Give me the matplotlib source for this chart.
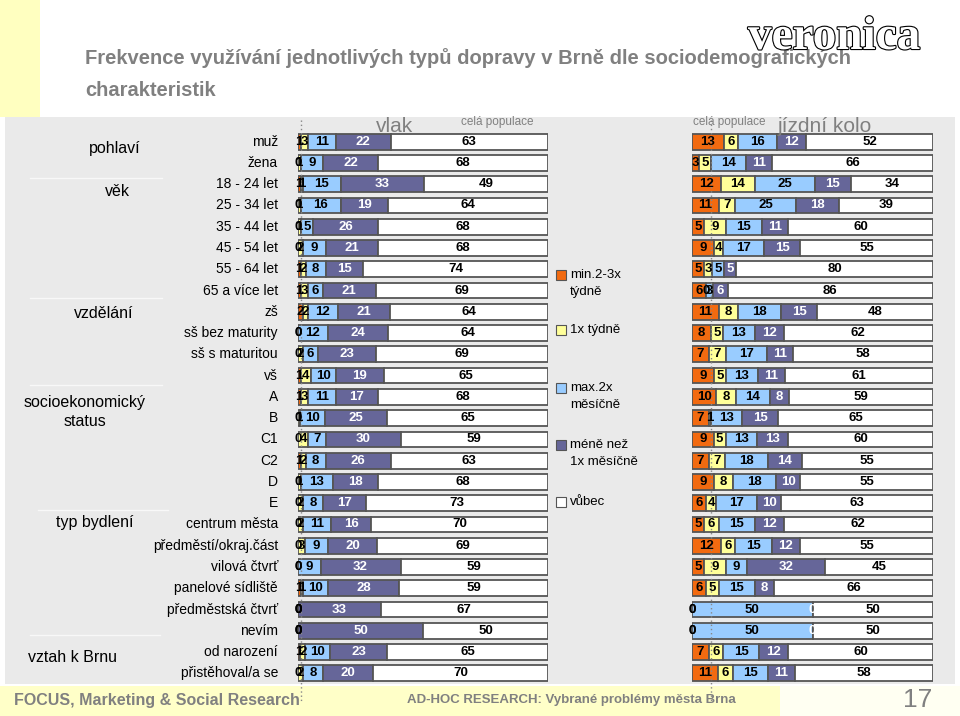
import numpy as np
import matplotlib
matplotlib.use("Agg")
import matplotlib.pyplot as plt
import matplotlib.patheffects as pe
from matplotlib.patches import Rectangle

# ------------------------------------------------------------
# DATA
# ------------------------------------------------------------
row_labels = ["muž", "žena", "18 - 24 let", "25 - 34 let", "35 - 44 let", "45 - 54 let",
              "55 - 64 let", "65 a více let", "zš", "sš bez maturity", "sš s maturitou", "vš",
              "A", "B", "C1", "C2", "D", "E", "centrum města", "předměstí/okraj.část",
              "vilová čtvrť", "panelové sídliště", "předměstská čtvrť", "nevím",
              "od narození", "přistěhoval/a se"]

series_names = ["min.2-3x\ntýdně", "1x týdně", "max.2x\nměsíčně", "méně než\n1x měsíčně", "vůbec"]

# vlak
vlak_min23 = [1, 0, 1, 0, 0, 0, 1, 1, 2, 0, 0, 1, 1, 0, 0, 1, 0, 0, 0, 0, 0, 1, 0, 0, 1, 0]
vlak_1x    = [3, 1, 1, 1, 1, 2, 2, 3, 2, 0, 2, 4, 3, 1, 4, 2, 1, 2, 2, 3, 0, 1, 0, 0, 2, 2]
vlak_max2  = [11, 9, 15, 16, 5, 9, 8, 6, 12, 12, 6, 10, 11, 10, 7, 8, 13, 8, 11, 9, 9, 10, 0, 0, 10, 8]
vlak_mene  = [22, 22, 33, 19, 26, 21, 15, 21, 21, 24, 23, 19, 17, 25, 30, 26, 18, 17, 16, 20, 32, 28, 33, 50, 23, 20]
vlak_vubec = [63, 68, 49, 64, 68, 68, 74, 69, 64, 64, 69, 65, 68, 65, 59, 63, 68, 73, 70, 69, 59, 59, 67, 50, 65, 70]

# jízdní kolo
kolo_min23 = [13, 3, 12, 11, 5, 9, 5, 6, 11, 8, 7, 9, 10, 7, 9, 7, 9, 6, 5, 12, 5, 6, 0, 0, 7, 11]
kolo_1x    = [6, 5, 14, 7, 9, 4, 3, 0, 8, 5, 7, 5, 8, 1, 5, 7, 8, 4, 6, 6, 9, 5, 0, 0, 6, 6]
kolo_max2  = [16, 14, 25, 25, 15, 17, 5, 3, 18, 13, 17, 13, 14, 13, 13, 18, 18, 17, 15, 15, 9, 15, 50, 50, 15, 15]
kolo_mene  = [12, 11, 15, 18, 11, 15, 5, 6, 15, 12, 11, 11, 8, 15, 13, 14, 10, 10, 12, 12, 32, 8, 0, 0, 12, 11]
kolo_vubec = [52, 66, 34, 39, 60, 55, 80, 86, 48, 62, 58, 61, 59, 65, 60, 55, 55, 63, 62, 55, 45, 66, 50, 50, 60, 58]

# "celá populace" reference lines
pop_vlak = 1
pop_kolo = 8

groups = [("pohlaví", 115, 148), ("věk", 117, 191), ("vzdělání", 104, 313),
          ("socioekonomický", 85, 403), ("status", 85, 421),
          ("typ bydlení", 95, 522), ("vztah k Brnu", 72, 657)]
separators = [(30, 162, 178), (30, 162, 298), (30, 162, 385), (38, 168, 510), (30, 160, 635)]

colors = ["#F26A10", "#FFFF99", "#99CCFF", "#666699", "#FFFFFF"]
text_colors = ["black", "black", "black", "white", "black"]

W, H = 960, 716
def fx(x): return x / W
def fy(y): return 1 - y / H

plt.rcParams["font.family"] = ["Liberation Sans", "DejaVu Sans"]
fig = plt.figure(figsize=(9.6, 7.16), dpi=100)

# background panels
for (x, y, w, h, c) in [(5, 684, 950, 567, "#EAEAEA"), (0, 117, 40, 117, "#FFFFC0"),
                        (0, 716, 780, 30, "#FFFFC8"), (780, 716, 180, 30, "#FFFFF2")]:
    fig.patches.append(Rectangle((fx(x), fy(y)), w / W, h / H, transform=fig.transFigure,
                                 facecolor=c, edgecolor="none", zorder=-5))

# title + logo
fig.text(fx(85), fy(58), "Frekvence využívání jednotlivých typů dopravy v Brně dle sociodemografických",
         fontsize=14.5, fontweight="bold", color="#808080", va="center", zorder=1)
fig.text(fx(85), fy(90), "charakteristik", fontsize=14.5, fontweight="bold", color="#808080",
         va="center", zorder=1)
fig.text(fx(748), fy(38), "veronica", fontsize=34, family="Liberation Serif", fontweight="bold",
         color="white", va="center", ha="left", zorder=2,
         path_effects=[pe.withStroke(linewidth=1.6, foreground="black")])

# footer
fig.text(fx(14), fy(701), "FOCUS, Marketing & Social Research", fontsize=11.5, fontweight="bold",
         color="#808080", va="center")
fig.text(fx(407), fy(700), "AD-HOC RESEARCH: Vybrané problémy města Brna", fontsize=9.5,
         fontweight="bold", color="#808080", va="center")
fig.text(fx(903), fy(700), "17", fontsize=19, color="#808080", va="center")

# left labels
n = len(row_labels)
y0, y1 = 131, 684
step = (y1 - y0) / n
for i, lab in enumerate(row_labels):
    fig.text(fx(278), fy(y0 + step * (i + 0.5)), lab, fontsize=10, ha="right", va="center")
for name, x, y in groups:
    fig.text(fx(x), fy(y), name, fontsize=11.5, ha="center", va="center")
for xa, xb, y in separators:
    fig.lines.append(plt.Line2D([fx(xa), fx(xb)], [fy(y), fy(y)], transform=fig.transFigure,
                                color="#F8F8F8", linewidth=1))

def draw_panel(left, right, series, pop, title, title_x, pop_x):
    ax = fig.add_axes([fx(left), fy(y1), (right - left) / W, (y1 - y0) / H])
    ax.set_zorder(1)
    ax.set_xlim(0, 100)
    ax.set_ylim(n - 0.5, -0.5)
    ax.axis("off")
    ypos = np.arange(n)
    data = np.array(series, dtype=float)
    totals = data.sum(axis=0)          # rows are shown as 100 % stacked bars
    cum = np.zeros(n)
    for k, vals in enumerate(data):
        widths = vals / totals * 100
        ax.barh(ypos, widths, left=cum, height=0.74, color=colors[k],
                edgecolor="#555555", linewidth=1.3, zorder=2)
        for yy, v, w, c in zip(ypos, vals, widths, cum):
            ax.text(c + w / 2, yy, f"{int(v)}", ha="center", va="center", fontsize=9.5,
                    fontweight="bold", color=text_colors[k], zorder=4)
        cum += widths
    ax.plot([pop, pop], [-1.0, n + 0.3], color="#888888", linestyle=(0, (1, 2)),
            linewidth=1, zorder=3, clip_on=False)
    fig.text(fx(title_x), fy(127), title, fontsize=15, color="#808080", ha="center", va="center")
    fig.text(fx(pop_x), fy(122), "celá populace", fontsize=8.5, color="#808080",
             ha="center", va="center")
    return ax

draw_panel(298, 548, [vlak_min23, vlak_1x, vlak_max2, vlak_mene, vlak_vubec],
           pop_vlak, "vlak", 395, 497)
draw_panel(692, 933, [kolo_min23, kolo_1x, kolo_max2, kolo_mene, kolo_vubec],
           pop_kolo, "jízdní kolo", 825, 729)

# legend
leg_y = [(275, 292), (330, None), (388, 405), (445, 462), (502, None)]
for k, (name, (ya, yb)) in enumerate(zip(series_names, leg_y)):
    fig.patches.append(Rectangle((fx(556), fy(ya + 5)), 10 / W, 10 / H, transform=fig.transFigure,
                                 facecolor=colors[k], edgecolor="#555555", linewidth=0.8))
    lines = name.split("\n")
    fig.text(fx(570), fy(ya), lines[0], fontsize=9.5, va="center", ha="left")
    if yb is not None:
        fig.text(fx(570), fy(yb), lines[1], fontsize=9.5, va="center", ha="left")

fig.savefig("out.png", dpi=100)
